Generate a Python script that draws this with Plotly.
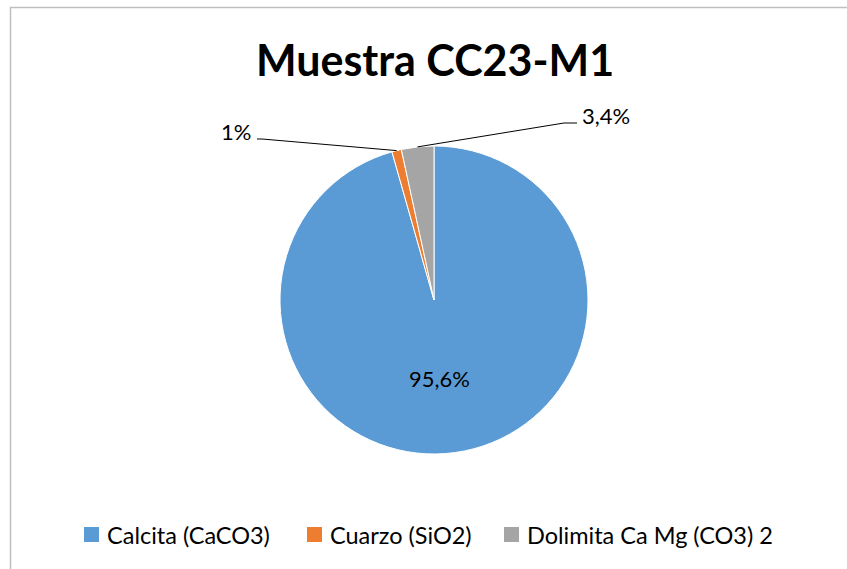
import math
import plotly.graph_objects as go

W, H = 847, 569

minerals = ["Calcita (CaCO3)", "Cuarzo (SiO2)", "Dolimita Ca Mg (CO3) 2"]
percent = [95.6, 1.0, 3.4]
colors = ["#5B9BD5", "#ED7D31", "#A5A5A5"]

FONT = "Lato, Carlito, Calibri, sans-serif"
TXT = "#000000"

# pie geometry in pixels
cx, cy, r = 434, 300, 154


def px_x(x):
    return x / W


def px_y(y):
    return 1 - y / H


def fmt(v):
    s = f"{v:.1f}".rstrip("0").rstrip(".")
    return s.replace(".", ",") + "%"


fig = go.Figure(
    go.Pie(
        labels=minerals,
        values=percent,
        sort=False,
        direction="clockwise",
        rotation=0,
        marker=dict(colors=colors, line=dict(color="white", width=1)),
        textinfo="none",
        hoverinfo="label+percent",
        showlegend=False,
        domain=dict(x=[px_x(cx - r), px_x(cx + r)], y=[px_y(cy + r), px_y(cy - r)]),
    )
)

# mid-angle of each slice (clockwise from 12 o'clock)
total = sum(percent)
mids = []
acc = 0.0
for v in percent:
    mids.append((acc + v / 2) / total * 2 * math.pi)
    acc += v


def rim(i, frac=1.0):
    a = mids[i]
    return cx + frac * r * math.sin(a), cy - frac * r * math.cos(a)


LABEL_SIZE = 22

# outside labels with leader lines: (elbow, line end, text anchor, xanchor)
outside = {
    1: ((262, 139), (257, 139), (253, 131), "right"),
    2: ((564, 123), (577, 123), (580, 116), "left"),
}
shapes = []
annotations = []
for i, (elbow, end, tpos, xa) in outside.items():
    sx, sy = rim(i)
    path = (f"M {px_x(sx)},{px_y(sy)} L {px_x(elbow[0])},{px_y(elbow[1])} "
            f"L {px_x(end[0])},{px_y(end[1])}")
    shapes.append(dict(type="path", xref="paper", yref="paper", path=path,
                       line=dict(color="#000000", width=1)))
    annotations.append(dict(x=px_x(tpos[0]), y=px_y(tpos[1]), xref="paper", yref="paper",
                            text=fmt(percent[i]), showarrow=False, xanchor=xa,
                            yanchor="middle",
                            font=dict(family=FONT, size=LABEL_SIZE, color=TXT)))

# inside label of the large slice
annotations.append(dict(x=px_x(439), y=px_y(378), xref="paper", yref="paper",
                        text=fmt(percent[0]), showarrow=False, xanchor="center",
                        yanchor="middle", font=dict(family=FONT, size=LABEL_SIZE, color=TXT)))

# title
annotations.append(dict(x=px_x(435), y=px_y(59), xref="paper", yref="paper",
                        text="<b>Muestra CC23-M1</b>", showarrow=False, xanchor="center",
                        yanchor="middle", font=dict(family=FONT, size=43, color=TXT)))

# legend row: square swatch followed by the mineral name
legend_x = [84, 307, 504]
legend_y = 534.5
sw = 15
for name, col, lx in zip(minerals, colors, legend_x):
    shapes.append(dict(type="rect", xref="paper", yref="paper",
                       x0=px_x(lx), x1=px_x(lx + sw),
                       y0=px_y(legend_y + sw / 2), y1=px_y(legend_y - sw / 2),
                       fillcolor=col, line=dict(width=0)))
    annotations.append(dict(x=px_x(lx + sw + 6), y=px_y(legend_y), xref="paper", yref="paper",
                            text=name, showarrow=False, xanchor="left", yanchor="middle",
                            font=dict(family=FONT, size=23.5, color=TXT)))

# chart frame
shapes.append(dict(type="rect", xref="paper", yref="paper",
                   x0=px_x(10.5), x1=1.05, y0=-0.05, y1=px_y(7.5),
                   line=dict(color="#BFBFBF", width=1.5)))

fig.update_layout(
    width=W,
    height=H,
    margin=dict(l=0, r=0, t=0, b=0),
    paper_bgcolor="white",
    plot_bgcolor="white",
    showlegend=False,
    shapes=shapes,
    annotations=annotations,
)

fig.write_html("out.html")
